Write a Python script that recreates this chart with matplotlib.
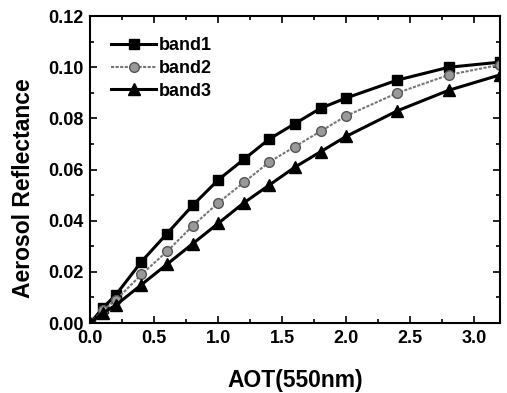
import matplotlib
matplotlib.use('Agg')
import matplotlib.pyplot as plt
from matplotlib.ticker import MultipleLocator

plt.rcParams['font.family'] = ['Liberation Sans', 'DejaVu Sans']
plt.rcParams['font.weight'] = 'bold'

# AOT values and reflectance for each band
aot = [0.0, 0.1, 0.2, 0.4, 0.6, 0.8, 1.0, 1.2, 1.4, 1.6, 1.8, 2.0, 2.4, 2.8, 3.2]
band1 = [0.0, 0.006, 0.011, 0.024, 0.035, 0.046, 0.056, 0.064, 0.072, 0.078, 0.084, 0.088, 0.095, 0.100, 0.102]
band2 = [0.0, 0.005, 0.009, 0.019, 0.028, 0.038, 0.047, 0.055, 0.063, 0.069, 0.075, 0.081, 0.090, 0.097, 0.101]
band3 = [0.0, 0.004, 0.007, 0.015, 0.023, 0.031, 0.039, 0.047, 0.054, 0.061, 0.067, 0.073, 0.083, 0.091, 0.097]

fig = plt.figure(figsize=(5.07, 3.93), dpi=100)
ax = fig.add_axes([0.178, 0.178, 0.808, 0.781])

ax.plot(aot, band1, color='black', lw=2.2, marker='s', ms=7, label='band1')
ax.plot(aot, band2, color='#777777', lw=1.5, ls=(0, (1.5, 0.7)), marker='o', ms=7,
        mfc='#999999', mec='#555555', mew=1, label='band2')
ax.plot(aot, band3, color='black', lw=2.2, marker='^', ms=8, label='band3')

ax.set_xlim(0, 3.2)
ax.set_ylim(0, 0.12)
ax.xaxis.set_major_locator(MultipleLocator(0.5))
ax.xaxis.set_minor_locator(MultipleLocator(0.25))
ax.yaxis.set_major_locator(MultipleLocator(0.02))
ax.yaxis.set_minor_locator(MultipleLocator(0.01))
ax.yaxis.set_major_formatter(plt.FormatStrFormatter('%.2f'))
ax.tick_params(which='both', direction='in', top=True, right=True, labelsize=13, width=1.2)
ax.tick_params(which='major', length=5, pad=5)
ax.tick_params(which='minor', length=3)
for s in ax.spines.values():
    s.set_linewidth(1.5)

ax.set_xlabel('AOT(550nm)', fontsize=16.5, fontweight='bold', labelpad=16)
ax.set_ylabel('Aerosol Reflectance', fontsize=16.5, fontweight='bold')
ax.yaxis.set_label_coords(-0.135, 0.44)

leg = ax.legend(loc='upper left', frameon=False, fontsize=13, handlelength=2.5,
                borderaxespad=0.75, labelspacing=0.33, handletextpad=0.15)

fig.savefig('out.png', dpi=100)
